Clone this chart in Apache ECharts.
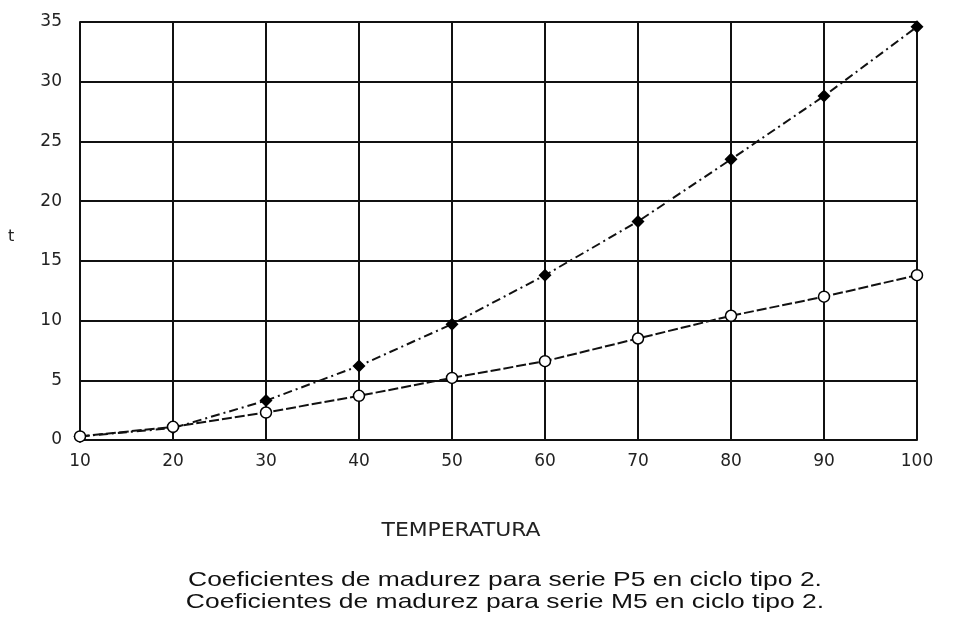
<!DOCTYPE html>
<html>
<head>
<meta charset="utf-8">
<script src="https://cdn.jsdelivr.net/npm/echarts@6/dist/echarts.min.js"></script>
<style>
  html, body { margin: 0; padding: 0; background: #fff; }
  #chart { width: 980px; height: 632px; }
</style>
</head>
<body>
<div id="chart"></div>
<script>
const temperatures = [10, 20, 30, 40, 50, 60, 70, 80, 90, 100]
const serieP5 = [0.3, 1.0, 3.3, 6.2, 9.7, 13.8, 18.3, 23.5, 28.8, 34.6]
const serieM5 = [0.3, 1.1, 2.3, 3.7, 5.2, 6.6, 8.5, 10.4, 12.0, 13.8]
const xTitle = 'TEMPERATURA'
const captions = [
  'Coeficientes de madurez para serie P5 en ciclo tipo 2.',
  'Coeficientes de madurez para serie M5 en ciclo tipo 2.'
]

const chart = echarts.init(document.getElementById('chart'))

const toPairs = (vals) => temperatures.map((t, i) => [t, vals[i]])

const option = {
  animation: false,
  grid: { left: 80, right: 63, top: 22, bottom: 192 },
  xAxis: {
    type: 'value',
    min: 10,
    max: 100,
    interval: 10,
    axisLine: { show: true, lineStyle: { color: '#111', width: 2 } },
    axisTick: { show: false },
    axisLabel: { color: '#222', fontSize: 17, fontFamily: 'DejaVu Sans', margin: 13 },
    splitLine: { show: true, lineStyle: { color: '#111', width: 2 } }
  },
  yAxis: {
    type: 'value',
    min: 0,
    max: 35,
    interval: 5,
    axisLine: { show: true, lineStyle: { color: '#111', width: 2 } },
    axisTick: { show: false },
    axisLabel: { color: '#222', fontSize: 17, fontFamily: 'DejaVu Sans', margin: 18 },
    splitLine: { show: true, lineStyle: { color: '#111', width: 2 } }
  },
  graphic: [
    { type: 'text', x: 8, y: 237, style: { text: 't', fontSize: 16, fill: '#222', fontFamily: 'DejaVu Sans', verticalAlign: 'middle' } },
    { type: 'text', x: 461, y: 531, scaleX: 1.28, style: { text: xTitle, fontSize: 19, fill: '#222', fontFamily: 'DejaVu Sans Condensed', align: 'center', verticalAlign: 'middle' } },
    { type: 'text', x: 505, y: 580, scaleX: 1.26, style: { text: captions[0], fontSize: 21, fill: '#111', fontFamily: 'Liberation Sans', align: 'center', verticalAlign: 'middle' } },
    { type: 'text', x: 505, y: 602, scaleX: 1.26, style: { text: captions[1], fontSize: 21, fill: '#111', fontFamily: 'Liberation Sans', align: 'center', verticalAlign: 'middle' } }
  ],
  series: [
    {
      name: 'P5',
      type: 'line',
      data: toPairs(serieP5),
      symbol: 'diamond',
      symbolSize: 13,
      itemStyle: { color: '#000' },
      lineStyle: { color: '#111', width: 2, type: [9, 4, 2, 4] },
      z: 3
    },
    {
      name: 'M5',
      type: 'line',
      data: toPairs(serieM5),
      symbol: 'circle',
      symbolSize: 11,
      showAllSymbol: true,
      itemStyle: { color: '#fff', borderColor: '#000', borderWidth: 1.5 },
      lineStyle: { color: '#111', width: 2, type: [10, 3] },
      z: 4
    }
  ]
}

chart.setOption(option)
</script>
</body>
</html>
